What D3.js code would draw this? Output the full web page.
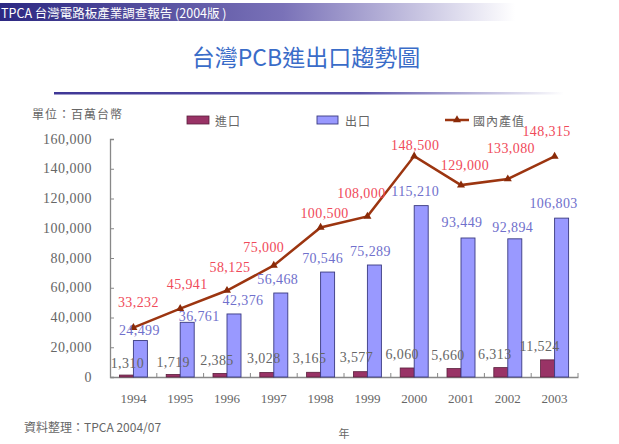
<!DOCTYPE html>
<html>
<head>
<meta charset="utf-8">
<script src="https://cdn.jsdelivr.net/npm/d3@7"></script>
<style>
  body { margin: 0; background: #fff; }
  svg { display: block; }
</style>
</head>
<body>
<div id="chart"></div>
<script>
// data
var years = ["1994", "1995", "1996", "1997", "1998", "1999", "2000", "2001", "2002", "2003"];
var imports = [1310, 1719, 2385, 3028, 3165, 3577, 6060, 5660, 6313, 11524];
var exports = [24499, 36761, 42376, 56468, 70546, 75289, 115210, 93449, 92894, 106803];
var production = [33232, 45941, 58125, 75000, 100500, 108000, 148500, 129000, 133080, 148315];
var yTicks = [0, 20000, 40000, 60000, 80000, 100000, 120000, 140000, 160000];

// hand placed label nudges from the original slide [dx, dy]
var impNudge = [[1,-12],[0,-12],[-3,-13],[-3,-14],[-4,-14],[-4,-14],[-5,-13],[-6,-13],[-6,-13],[-8,-13]];
var expNudge = [[-1,-10],[12,-6],[9,-13],[-3,-14],[-5,-14],[-4,-14],[-6,-14],[-6,-15],[-2,-11],[-8,-15]];
var prodNudge = [[5,-25],[7,-24],[3,-23],[-10,-18],[4,-14],[-6,-23],[1,-11],[4,-20],[3,-31],[-8,-25]];

var width = 619, height = 444;
var serif = "'Liberation Serif', 'DejaVu Serif', serif";
var cjk = "'Noto Sans CJK TC', 'Noto Sans CJK SC', sans-serif";
var fmt = d3.format(",");

var svg = d3.select("#chart").append("svg")
    .attr("width", width)
    .attr("height", height);

var defs = svg.append("defs");

var headGrad = defs.append("linearGradient").attr("id", "head-grad");
headGrad.append("stop").attr("offset", "0%").attr("stop-color", "#2c2882");
headGrad.append("stop").attr("offset", "55%").attr("stop-color", "#7a72b8");
headGrad.append("stop").attr("offset", "100%").attr("stop-color", "#ffffff");

var lineGrad = defs.append("linearGradient").attr("id", "line-grad");
lineGrad.append("stop").attr("offset", "0%").attr("stop-color", "#3f3796");
lineGrad.append("stop").attr("offset", "60%").attr("stop-color", "#5a52a8");
lineGrad.append("stop").attr("offset", "100%").attr("stop-color", "#ffffff");

// header bar
svg.append("rect")
    .attr("x", 0).attr("y", 3)
    .attr("width", 515).attr("height", 18)
    .attr("fill", "url(#head-grad)");

svg.append("text")
    .attr("x", 1).attr("y", 12)
    .attr("dominant-baseline", "central")
    .attr("fill", "#fff")
    .style("font-family", cjk)
    .style("font-size", "12.5px")
    .text("TPCA 台灣電路板產業調查報告 (2004版 )");

// title
svg.append("text")
    .attr("x", 306).attr("y", 56)
    .attr("text-anchor", "middle")
    .attr("dominant-baseline", "central")
    .attr("fill", "#3a6cc8")
    .style("font-family", cjk)
    .style("font-size", "23px")
    .text("台灣PCB進出口趨勢圖");

svg.append("rect")
    .attr("x", 54).attr("y", 92)
    .attr("width", 510).attr("height", 2.5)
    .attr("fill", "url(#line-grad)");

// scales
var x = d3.scaleBand().domain(years).range([110, 578]).padding(0);
var y = d3.scaleLinear().domain([0, 160000]).range([377, 139]);
var barW = 14;

var cx = function(i) { return x(years[i]) + x.bandwidth() / 2; };

// y axis
var yAxis = svg.append("g")
    .attr("transform", "translate(110,0)")
    .call(d3.axisRight(y).tickValues(yTicks).tickSize(4).tickFormat(""));
yAxis.select(".domain").attr("stroke", "#888").attr("stroke-width", 1.3);
yAxis.selectAll(".tick line").attr("stroke", "#888");

svg.append("g").selectAll("text")
    .data(yTicks)
    .join("text")
    .attr("x", 92)
    .attr("y", function(d) { return y(d); })
    .attr("text-anchor", "end")
    .attr("dominant-baseline", "central")
    .attr("fill", "#666")
    .style("font-family", serif)
    .style("font-size", "14px")
    .style("letter-spacing", "0.5px")
    .text(function(d) { return fmt(d); });

// x axis
var xAxis = svg.append("g")
    .attr("transform", "translate(0,377)")
    .call(d3.axisTop(x).tickSize(0).tickFormat(""));
xAxis.select(".domain").attr("stroke", "#888").attr("stroke-width", 1.3);

svg.append("g").selectAll("line")
    .data(years)
    .join("line")
    .attr("x1", function(d) { return x(d) + x.bandwidth(); })
    .attr("x2", function(d) { return x(d) + x.bandwidth(); })
    .attr("y1", 377).attr("y2", 373)
    .attr("stroke", "#888");

svg.append("g").selectAll("text")
    .data(years)
    .join("text")
    .attr("x", function(d, i) { return cx(i); })
    .attr("y", 398)
    .attr("text-anchor", "middle")
    .attr("dominant-baseline", "central")
    .attr("fill", "#666")
    .style("font-family", serif)
    .style("font-size", "13px")
    .text(function(d) { return d; });

// bars
svg.append("g").selectAll("rect")
    .data(imports)
    .join("rect")
    .attr("x", function(d, i) { return cx(i) - barW; })
    .attr("y", function(d) { return y(d); })
    .attr("width", barW)
    .attr("height", function(d) { return y(0) - y(d); })
    .attr("fill", "#993366")
    .attr("stroke", "#5a1f3c")
    .attr("stroke-width", 0.8);

svg.append("g").selectAll("rect")
    .data(exports)
    .join("rect")
    .attr("x", function(d, i) { return cx(i); })
    .attr("y", function(d) { return y(d); })
    .attr("width", barW)
    .attr("height", function(d) { return y(0) - y(d); })
    .attr("fill", "#9999ff")
    .attr("stroke", "#3a3a80")
    .attr("stroke-width", 0.9);

// production line
var line = d3.line()
    .x(function(d, i) { return cx(i); })
    .y(function(d) { return y(d); });

svg.append("path")
    .datum(production)
    .attr("d", line)
    .attr("fill", "none")
    .attr("stroke", "#9c3510")
    .attr("stroke-width", 2.5);

var tri = d3.symbol().type(d3.symbolTriangle).size(28);
svg.append("g").selectAll("path")
    .data(production)
    .join("path")
    .attr("transform", function(d, i) { return "translate(" + cx(i) + "," + y(d) + ")"; })
    .attr("d", tri)
    .attr("fill", "#8a2a08");

// value labels
function labels(values, nudge, xOf, color) {
  svg.append("g").selectAll("text")
      .data(values)
      .join("text")
      .attr("x", function(d, i) { return xOf(i) + nudge[i][0]; })
      .attr("y", function(d, i) { return y(d) + nudge[i][1]; })
      .attr("text-anchor", "middle")
      .attr("dominant-baseline", "central")
      .attr("fill", color)
      .style("font-family", serif)
      .style("font-size", "14px")
      .style("letter-spacing", "0.4px")
      .text(function(d) { return fmt(d); });
}
labels(imports, impNudge, function(i) { return cx(i) - barW / 2; }, "#666");
labels(exports, expNudge, function(i) { return cx(i) + barW / 2; }, "#7070cc");
labels(production, prodNudge, cx, "#f04a5a");

// unit label
svg.append("text")
    .attr("x", 32).attr("y", 113)
    .attr("dominant-baseline", "central")
    .attr("fill", "#666")
    .style("font-family", cjk)
    .style("font-size", "12px")
    .style("letter-spacing", "1px")
    .text("單位：百萬台幣");

// legend
var legend = svg.append("g").attr("transform", "translate(0,120)");
legend.append("rect").attr("x", 187).attr("y", -4).attr("width", 22).attr("height", 8)
    .attr("fill", "#993366").attr("stroke", "#5a1f3c").attr("stroke-width", 0.8);
legend.append("rect").attr("x", 317).attr("y", -4).attr("width", 21).attr("height", 8)
    .attr("fill", "#9999ff").attr("stroke", "#3a3a80").attr("stroke-width", 0.9);
legend.append("line").attr("x1", 445).attr("x2", 469).attr("y1", 0).attr("y2", 0)
    .attr("stroke", "#9c3510").attr("stroke-width", 2.5);
legend.append("path").attr("transform", "translate(457,0)").attr("d", tri).attr("fill", "#8a2a08");

var legendItems = [["進口", 215], ["出口", 345], ["國內產值", 473]];
legend.selectAll("text")
    .data(legendItems)
    .join("text")
    .attr("x", function(d) { return d[1]; })
    .attr("y", 0)
    .attr("dominant-baseline", "central")
    .attr("fill", "#666")
    .style("font-family", cjk)
    .style("font-size", "12px")
    .style("letter-spacing", "1px")
    .text(function(d) { return d[0]; });

// footer
svg.append("text")
    .attr("x", 24).attr("y", 426)
    .attr("dominant-baseline", "central")
    .attr("fill", "#666")
    .style("font-family", cjk)
    .style("font-size", "12px")
    .text("資料整理：TPCA 2004/07");

svg.append("text")
    .attr("x", 344).attr("y", 433)
    .attr("text-anchor", "middle")
    .attr("dominant-baseline", "central")
    .attr("fill", "#666")
    .style("font-family", cjk)
    .style("font-size", "11px")
    .text("年");
</script>
</body>
</html>
